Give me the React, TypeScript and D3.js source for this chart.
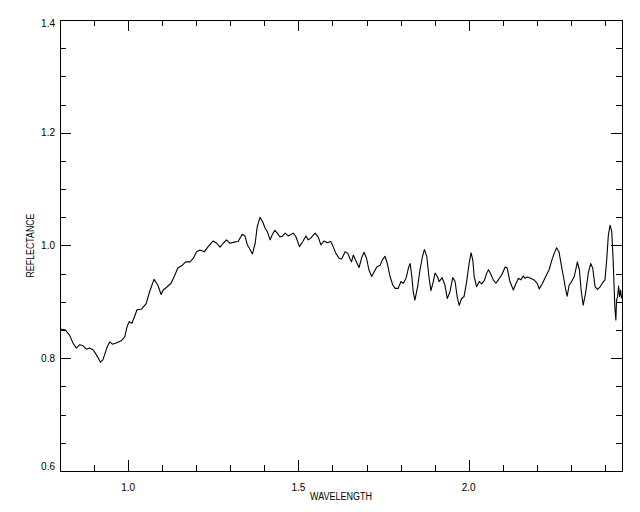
import React from "react";
import * as d3 from "d3";

const wavelength = [
  0.802, 0.816, 0.828, 0.838, 0.848, 0.858, 0.868, 0.877, 0.887, 0.897,
  0.907, 0.919, 0.926, 0.939, 0.946, 0.954, 0.965, 0.980, 0.990, 0.997,
  1.003, 1.011, 1.019, 1.026, 1.039, 1.053, 1.063, 1.076, 1.087, 1.097,
  1.103, 1.113, 1.126, 1.136, 1.146, 1.157, 1.169, 1.182, 1.191, 1.201,
  1.211, 1.224, 1.235, 1.250, 1.260, 1.270, 1.279, 1.289, 1.299, 1.311,
  1.323, 1.335, 1.343, 1.350, 1.356, 1.365, 1.373, 1.379, 1.387, 1.395,
  1.402, 1.409, 1.417, 1.423, 1.431, 1.438, 1.446, 1.454, 1.461, 1.470,
  1.477, 1.485, 1.493, 1.503, 1.513, 1.522, 1.529, 1.536, 1.549, 1.558,
  1.566, 1.575, 1.585, 1.595, 1.602, 1.610, 1.620, 1.627, 1.637, 1.645,
  1.651, 1.656, 1.661, 1.668, 1.678, 1.686, 1.693, 1.700, 1.707, 1.715,
  1.723, 1.730, 1.740, 1.746, 1.754, 1.761, 1.769, 1.777, 1.784, 1.793,
  1.801, 1.808, 1.816, 1.823, 1.828, 1.833, 1.837, 1.842, 1.850, 1.857,
  1.864, 1.870, 1.877, 1.883, 1.889, 1.896, 1.901, 1.908, 1.913, 1.922,
  1.930, 1.937, 1.945, 1.953, 1.960, 1.966, 1.972, 1.979, 1.986, 1.994,
  2.001, 2.007, 2.012, 2.016, 2.023, 2.031, 2.038, 2.046, 2.053, 2.058,
  2.065, 2.072, 2.080, 2.087, 2.097, 2.107, 2.113, 2.121, 2.131, 2.139,
  2.146, 2.153, 2.160, 2.165, 2.172, 2.182, 2.192, 2.201, 2.207, 2.216,
  2.226, 2.236, 2.244, 2.251, 2.258, 2.265, 2.271, 2.278, 2.285, 2.289,
  2.295, 2.302, 2.310, 2.319, 2.325, 2.330, 2.336, 2.343, 2.351, 2.358,
  2.364, 2.371, 2.378, 2.385, 2.393, 2.400, 2.405, 2.410, 2.415, 2.420,
  2.424, 2.429, 2.432, 2.434, 2.437, 2.440, 2.443, 2.446, 2.449,
];

const reflectance = [
  0.852, 0.850, 0.841, 0.827, 0.818, 0.824, 0.822, 0.816, 0.818, 0.815,
  0.806, 0.793, 0.797, 0.821, 0.829, 0.825, 0.827, 0.831, 0.838, 0.856,
  0.865, 0.862, 0.874, 0.886, 0.887, 0.897, 0.918, 0.940, 0.930, 0.913,
  0.921, 0.926, 0.933, 0.946, 0.960, 0.964, 0.971, 0.971, 0.977, 0.989,
  0.992, 0.989, 0.998, 1.008, 1.004, 0.997, 1.004, 1.010, 1.004, 1.006,
  1.007, 1.020, 1.017, 1.001, 0.995, 0.985, 1.004, 1.033, 1.050, 1.042,
  1.031, 1.024, 1.010, 1.019, 1.027, 1.022, 1.015, 1.017, 1.022, 1.017,
  1.019, 1.022, 1.015, 0.998, 1.007, 1.017, 1.010, 1.013, 1.022, 1.015,
  1.001, 1.008, 1.005, 1.007, 0.998, 0.986, 0.977, 0.976, 0.989, 0.986,
  0.977, 0.971, 0.983, 0.974, 0.961, 0.979, 0.988, 0.977, 0.957, 0.945,
  0.954, 0.962, 0.965, 0.974, 0.981, 0.968, 0.945, 0.930, 0.924, 0.924,
  0.936, 0.933, 0.942, 0.960, 0.968, 0.945, 0.918, 0.903, 0.927, 0.957,
  0.980, 0.993, 0.980, 0.945, 0.920, 0.936, 0.951, 0.945, 0.936, 0.943,
  0.930, 0.906, 0.918, 0.943, 0.936, 0.909, 0.894, 0.906, 0.909, 0.936,
  0.968, 0.987, 0.974, 0.945, 0.927, 0.936, 0.932, 0.938, 0.951, 0.957,
  0.949, 0.939, 0.933, 0.939, 0.948, 0.962, 0.960, 0.936, 0.921, 0.933,
  0.942, 0.939, 0.946, 0.942, 0.944, 0.942, 0.939, 0.933, 0.923, 0.932,
  0.945, 0.957, 0.974, 0.986, 0.996, 0.989, 0.968, 0.945, 0.921, 0.910,
  0.930, 0.936, 0.945, 0.971, 0.957, 0.921, 0.894, 0.915, 0.951, 0.968,
  0.960, 0.927, 0.922, 0.926, 0.934, 0.939, 0.974, 1.019, 1.036, 1.024,
  0.974, 0.891, 0.868, 0.903, 0.909, 0.928, 0.909, 0.921, 0.906,
];

const xMajorTicks = [1.0, 1.5, 2.0];
const xTickLabels = ["1.0", "1.5", "2.0"];
const yMajorTicks = [0.6, 0.8, 1.0, 1.2, 1.4];
const yTickLabels = ["0.6", "0.8", "1.0", "1.2", "1.4"];
const xTitle = "WAVELENGTH";
const yTitle = "REFLECTANCE";

const W = 640;
const H = 512;
const M = { left: 60, right: 622, top: 20, bottom: 471 };

export default function App() {
  const x = d3.scaleLinear().domain([0.8, 2.45]).range([M.left, M.right]);
  const y = d3.scaleLinear().domain([0.6, 1.4]).range([M.bottom, M.top]);

  const data = wavelength.map((w, i) => [w, reflectance[i]] as [number, number]);
  const line = d3
    .line<[number, number]>()
    .x((d) => x(d[0]))
    .y((d) => y(d[1]))
    .curve(d3.curveLinear);

  const xMinor = d3.range(9, 25).map((v) => v / 10).filter((v) => !xMajorTicks.some((m) => Math.abs(m - v) < 1e-6));
  const yMinor = d3.range(13, 28).map((v) => v / 20).filter((v) => !yMajorTicks.some((m) => Math.abs(m - v) < 1e-6));

  const font = "'Liberation Sans', Arial, sans-serif";
  const majLen = 11;
  const minLen = 6;

  return (
    <svg
      width={W}
      height={H}
      style={{ position: "absolute", left: 0, top: 0, background: "#fff" }}
    >
      <rect x={0} y={0} width={W} height={H} fill="#fff" />
      <defs>
        <clipPath id="plotclip">
          <rect x={M.left} y={M.top} width={M.right - M.left} height={M.bottom - M.top} />
        </clipPath>
      </defs>
      <g stroke="#000" strokeWidth={1} shapeRendering="crispEdges" fill="none">
        <rect x={M.left} y={M.top} width={M.right - M.left} height={M.bottom - M.top} />
        {xMajorTicks.map((t) => (
          <g key={"xM" + t}>
            <line x1={Math.round(x(t)) + 0.5} x2={Math.round(x(t)) + 0.5} y1={M.bottom} y2={M.bottom - majLen} />
            <line x1={Math.round(x(t)) + 0.5} x2={Math.round(x(t)) + 0.5} y1={M.top} y2={M.top + majLen} />
          </g>
        ))}
        {xMinor.map((t) => (
          <g key={"xm" + t}>
            <line x1={Math.round(x(t)) + 0.5} x2={Math.round(x(t)) + 0.5} y1={M.bottom} y2={M.bottom - minLen} />
            <line x1={Math.round(x(t)) + 0.5} x2={Math.round(x(t)) + 0.5} y1={M.top} y2={M.top + minLen} />
          </g>
        ))}
        {yMajorTicks.map((t) => (
          <g key={"yM" + t}>
            <line x1={M.left} x2={M.left + majLen} y1={Math.round(y(t)) + 0.5} y2={Math.round(y(t)) + 0.5} />
            <line x1={M.right} x2={M.right - majLen} y1={Math.round(y(t)) + 0.5} y2={Math.round(y(t)) + 0.5} />
          </g>
        ))}
        {yMinor.map((t) => (
          <g key={"ym" + t}>
            <line x1={M.left} x2={M.left + minLen} y1={Math.round(y(t)) + 0.5} y2={Math.round(y(t)) + 0.5} />
            <line x1={M.right} x2={M.right - minLen} y1={Math.round(y(t)) + 0.5} y2={Math.round(y(t)) + 0.5} />
          </g>
        ))}
      </g>
      <path
        d={line(data) || ""}
        fill="none"
        stroke="#000"
        strokeWidth={1.1}
        strokeLinejoin="round"
        clipPath="url(#plotclip)"
      />
      <g fontFamily={font} fontSize={10} fill="#000">
        {xMajorTicks.map((t, i) => (
          <text key={"xl" + t} x={x(t)} y={491} textAnchor="middle">
            {xTickLabels[i]}
          </text>
        ))}
        {yMajorTicks.map((t, i) => {
          let cy = y(t);
          if (i === 0) cy -= 5;
          if (i === yMajorTicks.length - 1) cy += 3;
          return (
            <text key={"yl" + t} x={55} y={cy + 3.5} textAnchor="end">
              {yTickLabels[i]}
            </text>
          );
        })}
        <text x={(M.left + M.right) / 2} y={500} textAnchor="middle" textLength={62} lengthAdjust="spacingAndGlyphs">
          {xTitle}
        </text>
        <text
          transform={`translate(34, ${(M.top + M.bottom) / 2}) rotate(-90)`}
          textAnchor="middle"
          textLength={64}
          lengthAdjust="spacingAndGlyphs"
        >
          {yTitle}
        </text>
      </g>
    </svg>
  );
}
